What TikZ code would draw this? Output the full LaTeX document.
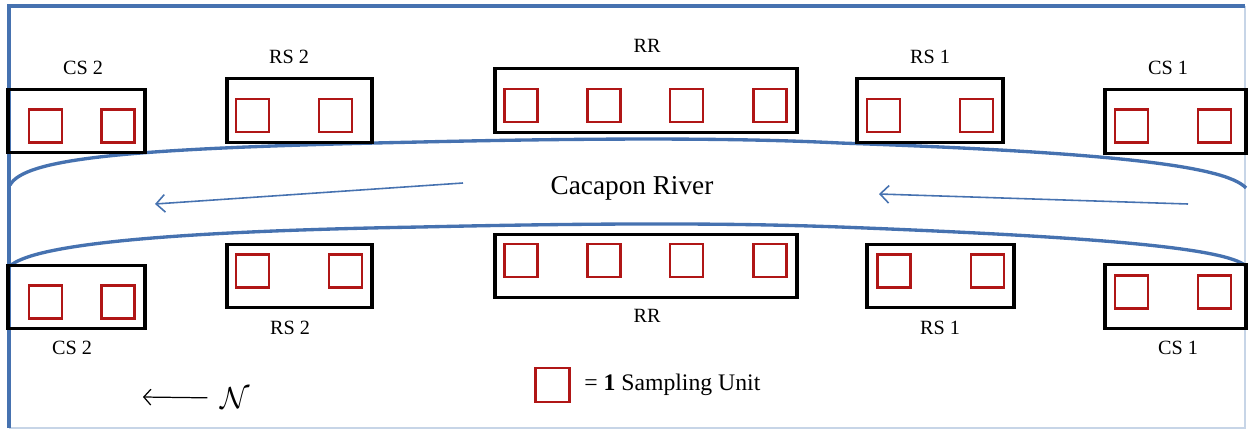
\documentclass[tikz,border=0pt]{standalone}
\usepackage{fontspec}
\setmainfont{Liberation Serif}
\usepackage{tikz}
\usetikzlibrary{arrows.meta,positioning}
\usepackage{xcolor}
\definecolor{riverblue}{RGB}{70,114,176}
\definecolor{unitred}{RGB}{176,22,22}

\begin{document}
\begin{tikzpicture} [
    x = 0.02cm, y = -0.02cm,
    site/.style = { draw, black, line width = 1.8pt, inner sep = 0, minimum height = 1.27cm },
    unit/.style = { draw = unitred, line width = 1.6pt, inner sep = 0, minimum size = 0.66cm },
    lbl/.style = { inner sep = 0, font = \fontsize{11.5}{13}\selectfont },
    bank/.style = { riverblue, line width = 1.9pt },
    flow/.style = { riverblue, line width = 0.9pt, -{Straight Barb[length = 5pt, width = 10pt]} }
    ]

    \useasboundingbox (0,0) rectangle (1248,430);

    % frame
    \draw [riverblue!30, line width = 1pt] (1245,6) -- (1245,428) -- (9,428);
    \draw [riverblue, line width = 2pt] (9,428) -- (9,6) -- (1245,6);

    % river banks
    \draw [bank] (10,185) .. controls (25,158) and (130,148) .. (420,142)
      .. controls (640,137) and (760,139) .. (840,143)
      .. controls (1100,152) and (1225,165) .. (1246,188);
    \draw [bank] (10,266) .. controls (30,248) and (130,232) .. (420,227)
      .. controls (640,222) and (760,224) .. (840,227)
      .. controls (1100,237) and (1225,248) .. (1246,266);

    % flow
    \node [font = \fontsize{15.5}{18}\selectfont] (river) at (632,188) {Cacapon River};
    \coordinate (flowAs) at (463,183);
    \coordinate (flowAe) at (155,204);
    \coordinate (flowBs) at (1188,204);
    \coordinate (flowBe) at (879,194);
    \draw [flow] (flowAs) -- (flowAe);
    \draw [flow] (flowBs) -- (flowBe);

    % sites above the river
    \node [site, minimum width = 2.74cm] (cs2t) at (76.5,121) {};
    \node [site, minimum width = 2.90cm] (rs2t) at (299.5,110.5) {};
    \node [site, minimum width = 6.04cm] (rrt) at (646,100.5) {};
    \node [site, minimum width = 2.92cm] (rs1t) at (930,110.5) {};
    \node [site, minimum width = 2.82cm] (cs1t) at (1175.5,121.5) {};

    \node [unit] (cs2t1) at (45.5,126) {};
    \node [unit] (cs2t2) at (118,126) {};
    \node [unit] (rs2t1) at (252.5,115.5) {};
    \node [unit] (rs2t2) at (335.5,115.5) {};
    \node [unit] (rrt1) at (521,105.5) {};
    \node [unit] (rrt2) at (604,105.5) {};
    \node [unit] (rrt3) at (686.5,105.5) {};
    \node [unit] (rrt4) at (770,105.5) {};
    \node [unit] (rs1t1) at (883.5,115.5) {};
    \node [unit] (rs1t2) at (976.5,115.5) {};
    \node [unit] (cs1t1) at (1131.5,126) {};
    \node [unit] (cs1t2) at (1214.5,126) {};

    \node [lbl] (cs2tl) at (83,68) {CS 2};
    \node [lbl] (rs2tl) at (289,57) {RS 2};
    \node [lbl] (rrtl) at (647,46) {RR};
    \node [lbl] (rs1tl) at (930,57) {RS 1};
    \node [lbl] (cs1tl) at (1168,68) {CS 1};

    % sites below the river
    \node [site, minimum width = 2.74cm] (cs2b) at (76.5,297) {};
    \node [site, minimum width = 2.90cm] (rs2b) at (299.5,276) {};
    \node [site, minimum width = 6.04cm] (rrb) at (646,266) {};
    \node [site, minimum width = 2.94cm] (rs1b) at (940.5,276) {};
    \node [site, minimum width = 2.82cm] (cs1b) at (1175.5,296.5) {};

    \node [unit] (cs2b1) at (45.5,302) {};
    \node [unit] (cs2b2) at (118,302) {};
    \node [unit] (rs2b1) at (252.5,271) {};
    \node [unit] (rs2b2) at (345.5,271) {};
    \node [unit] (rrb1) at (521,260.5) {};
    \node [unit] (rrb2) at (604,260.5) {};
    \node [unit] (rrb3) at (686.5,260.5) {};
    \node [unit] (rrb4) at (770,260.5) {};
    \node [unit] (rs1b1) at (894,271) {};
    \node [unit] (rs1b2) at (987.5,271) {};
    \node [unit] (cs1b1) at (1131.5,292) {};
    \node [unit] (cs1b2) at (1214.5,292) {};

    \node [lbl] (cs2bl) at (72,348) {CS 2};
    \node [lbl] (rs2bl) at (290,328) {RS 2};
    \node [lbl] (rrbl) at (647,316) {RR};
    \node [lbl] (rs1bl) at (940,328) {RS 1};
    \node [lbl] (cs1bl) at (1178,348) {CS 1};

    % key and north
    \node [unit, minimum size = 0.68cm] (key) at (552.5,385) {};
    \node [lbl, right = 0.26cm of key, font = \fontsize{13.5}{16}\selectfont] (keytext) {= \textbf{1} Sampling Unit};
    \node [font = \fontsize{17}{20}\selectfont, inner sep = 0] (north) at (235,398) {$\mathcal{N}$};
    \coordinate (northtip) at (143,397);
    \draw [-{Straight Barb[length = 4pt, width = 9pt]}, line width = 0.7pt, shorten <= 0.25cm] (north.west) -- (northtip);
  \end{tikzpicture}
\end{document}
